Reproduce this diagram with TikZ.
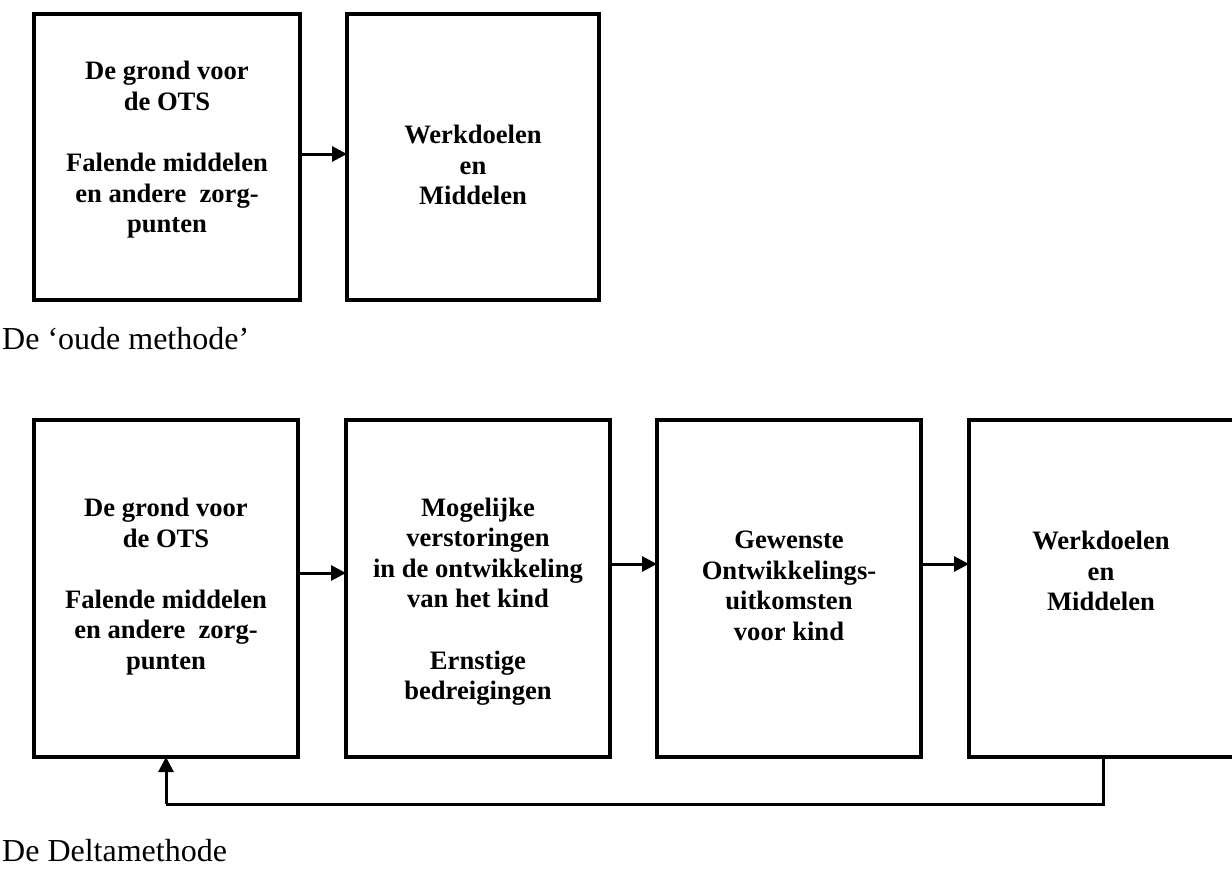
\documentclass[tikz,border=0pt]{standalone}
\usepackage{fontspec}
\setmainfont{Liberation Serif}
\usetikzlibrary{arrows.meta}
\tikzset{
  blk/.style={draw=black, line width=4pt, rectangle, inner sep=0pt, outer sep=0pt, fill=none},
  txt/.style={align=center, inner sep=0pt, font=\bfseries\fontsize{26.6}{30.6}\selectfont},
  captxt/.style={anchor=base west, inner sep=0pt, font=\fontsize{32}{38}\selectfont},
  arr/.style={line width=3pt, -{Triangle[length=15pt,width=15pt]}},
  fb/.style={line width=3pt}
}
\begin{document}
\begin{tikzpicture}[x=1pt,y=-1pt]
\useasboundingbox (0,0) rectangle (1232,868);
% top row
\node[blk, minimum width=266pt, minimum height=286pt] (t1) at (167,157) {};
\node[blk, minimum width=252pt, minimum height=286pt] (t2) at (473,157) {};
\node[txt] (t1t) at (167,150) {De grond voor\\de OTS\\[30.6pt]Falende middelen\\en andere\ \ zorg-\\punten};
\node[txt] (t2t) at (473,165) {Werkdoelen\\en\\Middelen};
\draw[arr] ([yshift=3pt]t1.east) -- ([yshift=3pt]t2.west);
\node[captxt] (c1) at (2,349) {De ‘oude methode’};
% bottom row
\node[blk, minimum width=264pt, minimum height=337pt] (b1) at (166,588.5) {};
\node[blk, minimum width=264pt, minimum height=337pt] (b2) at (478,588.5) {};
\node[blk, minimum width=264pt, minimum height=337pt] (b3) at (789,588.5) {};
\node[blk, minimum width=268pt, minimum height=337pt] (b4) at (1103,588.5) {};
\node[txt] (b1t) at (166,586.5) {De grond voor\\de OTS\\[30.6pt]Falende middelen\\en andere\ \ zorg-\\punten};
\node[txt] (b2t) at (478,601.5) {Mogelijke\\verstoringen\\in de ontwikkeling\\van het kind\\[30.6pt]Ernstige\\bedreigingen};
\node[txt] (b3t) at (789,586) {Gewenste\\Ontwikkelings-\\uitkomsten\\voor kind};
\node[txt] (b4t) at (1101,571) {Werkdoelen\\en\\Middelen};
\draw[arr] ([yshift=15.5pt]b1.east) -- ([yshift=15.5pt]b2.west);
\draw[arr] ([yshift=24.5pt]b2.east) -- ([yshift=24.5pt]b3.west);
\draw[arr] ([yshift=24.5pt]b3.east) -- ([yshift=24.5pt]b4.west);
\coordinate (f1) at (1103,804);
\coordinate (f2) at (166,804);
\draw[fb] (b4.south) -- (f1) -- (f2);
\draw[arr] (f2) -- (b1.south);
\node[captxt] (c2) at (2,861) {De Deltamethode};
\end{tikzpicture}
\end{document}
